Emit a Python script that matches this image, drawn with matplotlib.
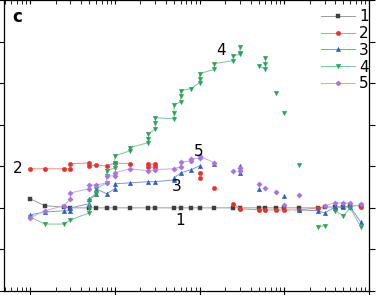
import numpy as np
import matplotlib
matplotlib.use("Agg")
import matplotlib.pyplot as plt
from matplotlib.ticker import LogLocator, NullFormatter, MultipleLocator

nan = np.nan

# series 1 (gray squares)
x1 = [1, 1.5, 2.5, 3, 5, 6, 8, 10, 15, 25, 30, 50, 60, 80, 100, 150, 250, 300,
      500, 600, 800, 1000, 1500, 2500, 3000, 4000, 5000, 6000, 8000]
y1 = [0.22, 0.05, 0.02, 0.0, 0.0, 0.0, 0.0, 0.0, 0.0, 0.0, 0.0, 0.0, 0.0, 0.0, 0.0,
      0.0, 0.0, 0.0, 0.0, 0.0, 0.0, 0.0, 0.0, 0.0, 0.02, 0.02, 0.02, 0.05, 0.05]

# series 2 (red circles), nan = gap in line
x2 = [1, 1.5, 2.5, 3, 3, 5, 5, 6, 8, 10, 15, nan, 25, 30, nan, 25, 30, nan,
      100, nan, 100, nan, 150, nan, 250, 300, 500, 600, 800, 1000, 1500, 2500, nan,
      4000, nan, 8000]
y2 = [0.94, 0.94, 0.94, 0.94, 1.06, 1.08, 1.01, 1.03, 1.01, 1.08, 1.06, nan, 1.05, 1.05, nan,
      0.98, 0.98, nan, 0.84, nan, 0.72, nan, 0.48, nan, 0.10, -0.02, -0.05, -0.05, -0.05,
      -0.05, -0.05, 0.0, nan, -0.02, nan, 0.02]

# series 3 (blue up triangles)
x3 = [1, 1.5, 2.5, 3, 3, 5, 5, 6, 6, 8, 10, 10, 15, 25, 30, 50, 50, 60, 80, 100, nan,
      150, nan, 300, 300, 300, nan, 500, nan, 1000, nan, 1500, 2500, 3000, 4000, 5000,
      6000, 8000]
y3 = [-0.17, -0.10, -0.07, -0.07, 0.0, 0.10, 0.22, 0.34, 0.46, 0.34, 0.46, 0.58, 0.60, 0.63,
      0.63, 0.67, 0.72, 0.84, 0.92, 1.01, nan, 1.06, nan, 0.84, 0.94, 1.01, nan, 0.46, nan,
      0.29, nan, -0.05, -0.07, -0.12, 0.02, 0.02, 0.02, -0.34]

# series 4 (green down triangles)
x4 = [1, 1.5, 2.5, 3, 5, 5, 5, 6, 6, 8, 8, 8, 10, 10, 10, 15, 15, 25, 25, 25, 30, 30, 30,
      50, 50, 50, 60, 60, 60, 80, 100, 100, 100, 150, 150, 250, 250, 300, 300, 300, nan,
      500, 600, 600, 600, nan, 800, nan, 1000, nan, 1500, nan, 2500, 3000, nan,
      4000, 5000, 6000, 8000]
y4 = [-0.22, -0.39, -0.39, -0.29, -0.12, 0.0, 0.17, 0.34, 0.46, 0.60, 0.77, 0.89, 0.96,
      1.08, 1.25, 1.37, 1.45, 1.57, 1.66, 1.78, 1.90, 2.05, 2.17, 2.14, 2.27, 2.48, 2.55,
      2.70, 2.82, 2.87, 3.01, 3.11, 3.23, 3.33, 3.47, 3.54, 3.66, 3.69, 3.73, 3.86, nan,
      3.42, 3.33, 3.47, 3.61, nan, 2.77, nan, 2.27, nan, 1.04, nan, -0.46, -0.43, nan,
      -0.07, -0.19, 0.0, -0.46]

# series 5 (purple diamonds)
x5 = [1, 1.5, 2.5, 3, 3, 5, 5, 6, 8, 8, 10, 10, 15, 25, 30, 50, 60, 60, 80, 80, 100, 100,
      150, nan, 250, nan, 300, 300, nan, 500, nan, 600, nan, 800, nan, 1000, nan, 1500, nan,
      3000, 4000, 5000, 6000, nan, 8000]
y5 = [-0.24, -0.07, 0.05, 0.22, 0.36, 0.46, 0.55, 0.55, 0.60, 0.77, 0.77, 0.84, 0.94, 0.89,
      0.92, 0.94, 0.99, 1.10, 1.13, 1.18, 1.20, 1.25, 1.08, nan, 0.89, nan, 0.89, 0.96, nan,
      0.58, nan, 0.48, nan, 0.39, nan, 0.07, nan, 0.31, nan, 0.05, 0.12, 0.12, 0.12, nan, 0.10]

SERIES = [
    ('1', x1, y1, '#404040', '#9a9a9a', 's'),
    ('2', x2, y2, '#e8312f', '#f08a8a', 'o'),
    ('3', x3, y3, '#2a5ec8', '#7a9be0', '^'),
    ('4', x4, y4, '#2aa25c', '#7cc79a', 'v'),
    ('5', x5, y5, '#a673e0', '#c9a6ef', 'D'),
]

# label text positions (data coords)
LABELS = [('1', 59, -0.31), ('2', 0.72, 0.94), ('3', 54, 0.51), ('4', 180, 3.78), ('5', 99, 1.35)]

fig = plt.figure(figsize=(3.77, 2.95), dpi=100)
ax = fig.add_axes([4 / 377, 4 / 295, 365 / 377, 291 / 295])

for name, xs, ys, mc, lc, mk in SERIES:
    ms = 2.7 if mk == 'D' else 3.2
    ax.plot(xs, ys, '-', color=lc, linewidth=0.7, marker=mk, markersize=ms,
            markerfacecolor=mc, markeredgecolor=mc, markeredgewidth=0.3, label=name)

for txt, lx, ly in LABELS:
    ax.text(lx, ly, txt, fontsize=11, ha='center', va='center', color='black')

ax.text(0.036, 0.94, 'c', transform=ax.transAxes, fontsize=12, fontweight='bold',
        ha='center', va='center')

ax.set_xscale('log')
ax.set_xlim(0.493, 10000)
ax.set_ylim(-2, 5)
ax.xaxis.set_major_locator(LogLocator(base=10, numticks=10))
ax.xaxis.set_minor_locator(LogLocator(base=10, subs=np.arange(2, 10), numticks=10))
ax.xaxis.set_major_formatter(NullFormatter())
ax.xaxis.set_minor_formatter(NullFormatter())
ax.yaxis.set_major_locator(MultipleLocator(1))
ax.set_yticklabels([])
ax.tick_params(axis='x', which='major', direction='inout', length=6, width=0.8,
               top=True, bottom=True)
ax.tick_params(axis='x', which='minor', direction='in', length=3, width=0.6,
               top=True, bottom=True)
ax.tick_params(axis='y', which='major', direction='out', length=4, width=0.8,
               left=True, right=True)
for s in ax.spines.values():
    s.set_linewidth(0.9)

leg = ax.legend(loc='upper right', frameon=False, fontsize=11, handlelength=2.2,
                handletextpad=0.3, labelspacing=0.12, borderaxespad=0.2,
                bbox_to_anchor=(1.025, 1.0))

fig.savefig('out.png', dpi=100)
